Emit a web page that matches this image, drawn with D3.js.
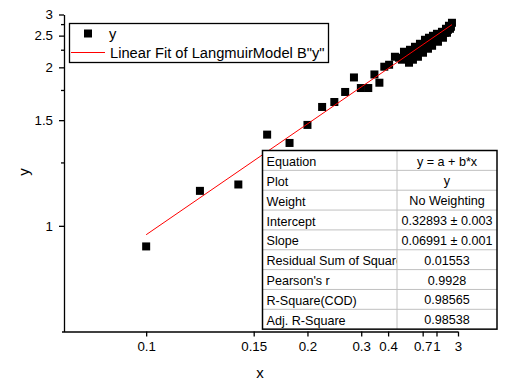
<!DOCTYPE html>
<html><head><meta charset="utf-8">
<script src="https://cdn.jsdelivr.net/npm/d3@7/dist/d3.min.js"></script>
<style>
body{margin:0;background:#fff}
text{font-family:"Liberation Sans",Arial,sans-serif}
</style></head><body>
<svg id="c" width="512" height="391"></svg>
<script>
const xValues=[0.100,0.120,0.140,0.160,0.180,0.200,0.220,0.240,0.261,0.281,0.299,0.321,0.342,0.361,0.382,0.405,0.437,0.462,0.498,0.540,0.549,0.578,0.600,0.635,0.661,0.705,0.737,0.791,0.811,0.902,0.880,1.015,1.048,1.204,1.251,1.416,1.481,1.630,1.717,1.921,
  0.483,0.522,0.568,0.623,0.690,0.772,0.877,0.984,1.161,1.356,1.552,1.813];
const yValues=[0.939,1.124,1.150,1.404,1.354,1.467,1.600,1.641,1.731,1.880,1.769,1.769,1.914,1.823,2.008,2.033,2.143,2.129,2.218,2.060,2.249,2.101,2.298,2.143,2.349,2.203,2.421,2.266,2.459,2.497,2.315,2.537,2.385,2.578,2.459,2.643,2.558,2.711,2.643,2.782,
  2.101,2.158,2.172,2.218,2.249,2.332,2.385,2.440,2.497,2.558,2.621,2.688];
const xTicks=[0.1,0.15,0.2,0.3,0.4,0.7,1,3];
const xTickLabels=["0.1","0.15","0.2","0.3","0.4","0.7","1","3"];
const yTicks=[1,1.5,2,2.5,3];
const yTickLabels=["1","1.5","2","2.5","3"];
const yMinorTicks=[1.25,1.75,2.25,2.75];
const fitIntercept=0.32893, fitSlope=0.06991;
const legendLabels=["y",'Linear Fit of LangmuirModel B"y"'];
const tableRows=[
 ["Equation","y = a + b*x"],
 ["Plot","y"],
 ["Weight","No Weighting"],
 ["Intercept","0.32893 \u00b1 0.003"],
 ["Slope","0.06991 \u00b1 0.001"],
 ["Residual Sum of Squares","0.01553"],
 ["Pearson's r","0.9928"],
 ["R-Square(COD)","0.98565"],
 ["Adj. R-Square","0.98538"]
];

const svg=d3.select("#c");
const L=64,R=458,T=14.5,B=331.5;
// reciprocal axes: linear in 1/v
const xr=d3.scaleLinear().domain([1/0.0797,1/3]).range([L,R]);
const yr=d3.scaleLinear().domain([1/0.75,1/3]).range([B,T]);
const X=v=>xr(1/v), Y=v=>yr(1/v);

// axes
const xAxis=svg.append("g").attr("transform",`translate(0,${B})`)
  .call(d3.axisBottom(xr).tickValues(xTicks.map(v=>1/v)).tickFormat((d,i)=>xTickLabels[i]).tickSize(5).tickSizeOuter(0).tickPadding(5));
xAxis.select(".domain").attr("d",`M${L-2},0.5H${R}`);
const yAxis=svg.append("g").attr("transform",`translate(${L},0)`)
  .call(d3.axisLeft(yr).tickValues(yTicks.map(v=>1/v)).tickFormat((d,i)=>yTickLabels[i]).tickSize(5).tickSizeOuter(0).tickPadding(6));
const yMinor=svg.append("g").attr("transform",`translate(${L},0)`)
  .call(d3.axisLeft(yr).tickValues(yMinorTicks.map(v=>1/v)).tickFormat("").tickSize(3).tickSizeOuter(0));
yMinor.select(".domain").remove();
svg.selectAll(".tick text").attr("font-size","13.3px").attr("fill","#000").attr("font-family","'Liberation Sans',Arial,sans-serif");
svg.selectAll(".domain,.tick line").attr("stroke","#000").attr("stroke-width",1.3);

// axis titles
svg.append("text").attr("x",260).attr("y",378).attr("text-anchor","middle").attr("font-size","15px").text("x");
svg.append("text").attr("transform","translate(29,172) rotate(-90)").attr("text-anchor","middle").attr("font-size","15px").text("y");

// points
svg.append("g").selectAll("rect").data(xValues.map((x,i)=>[x,yValues[i]])).join("rect")
  .attr("x",d=>X(d[0])-4).attr("y",d=>Y(d[1])-4).attr("width",8).attr("height",8).attr("fill","#000");

// fit line
const xe=d3.extent(xValues);
const fitPts=[xe[0],xe[1]].map(x=>[x,1/(fitIntercept+fitSlope/x)]);
svg.append("path").attr("d",d3.line().x(d=>X(d[0])).y(d=>Y(d[1]))(fitPts))
  .attr("stroke","#ff0000").attr("stroke-width",1).attr("fill","none");

// legend
const lg=svg.append("g");
lg.append("rect").attr("x",69.5).attr("y",23.5).attr("width",259).attr("height",39).attr("fill","#fff").attr("stroke","#000").attr("stroke-width",1.3);
lg.append("rect").attr("x",84).attr("y",29.5).attr("width",8).attr("height",8).attr("fill","#000");
lg.append("line").attr("x1",71).attr("x2",105).attr("y1",52.5).attr("y2",52.5).attr("stroke","#ff0000");
lg.append("text").attr("x",109).attr("y",38.5).attr("font-size","14.7px").text(legendLabels[0]);
lg.append("text").attr("x",110).attr("y",57.5).attr("font-size","14.7px").text(legendLabels[1]);

// table
const tx=262.5, ty=150.5, c1=134.5, c2=100, rh=19.85;
const tb=svg.append("g");
tb.append("rect").attr("x",tx).attr("y",ty).attr("width",c1+c2).attr("height",rh*tableRows.length).attr("fill","#fff");
svg.append("defs").append("clipPath").attr("id","col1").append("rect").attr("x",tx).attr("y",ty).attr("width",c1).attr("height",rh*tableRows.length);
tableRows.forEach((r,i)=>{
  if(i>0) tb.append("line").attr("x1",tx).attr("x2",tx+c1+c2).attr("y1",ty+i*rh).attr("y2",ty+i*rh).attr("stroke","#c0c0c0");
  tb.append("text").attr("x",tx+4).attr("y",ty+i*rh+15.5).attr("font-size","12.6px").attr("clip-path","url(#col1)").text(r[0]);
  tb.append("text").attr("x",tx+c1+c2/2).attr("y",ty+i*rh+15).attr("text-anchor","middle").attr("font-size","12.6px").text(r[1]);
});
tb.append("line").attr("x1",tx+c1).attr("x2",tx+c1).attr("y1",ty).attr("y2",ty+rh*tableRows.length).attr("stroke","#c0c0c0");
tb.append("rect").attr("x",tx).attr("y",ty).attr("width",c1+c2).attr("height",rh*tableRows.length).attr("fill","none").attr("stroke","#000").attr("stroke-width",1.5);
</script>
</body></html>
